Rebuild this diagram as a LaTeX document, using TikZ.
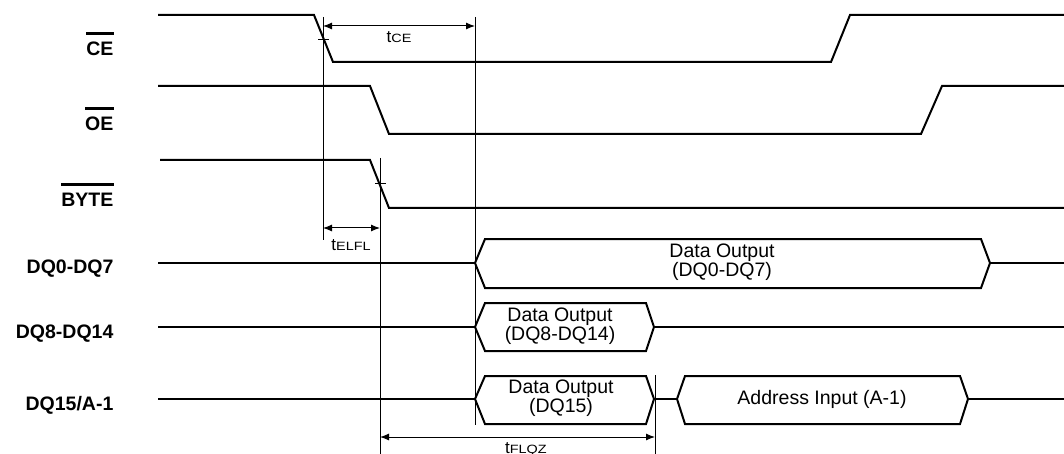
\documentclass[tikz,border=0pt]{standalone}
\usepackage{fontspec}
\setmainfont{Liberation Sans}
\usetikzlibrary{arrows.meta}
\newcommand{\tsub}[1]{{\fontsize{17}{17}\selectfont t}\scalebox{1.2}[1]{\fontsize{12}{12}\selectfont #1}}
\begin{document}
\begin{tikzpicture}[x=1pt,y=-1pt,
  sig/.style={line width=2pt, line join=miter},
  bus/.style={line width=2pt, line join=miter},
  guide/.style={line width=1pt},
  dim/.style={line width=1pt, {Latex[length=9pt,width=7pt]}-{Latex[length=9pt,width=7pt]}},
  lbl/.style={font=\fontsize{19.5}{20}\selectfont\bfseries, inner sep=0pt, anchor=base east},
  bar/.style={line width=3pt},
  bustext/.style={font=\fontsize{19.5}{19.5}\selectfont, align=center, inner sep=0pt},
  tlabel/.style={inner sep=0pt, anchor=base}
]
\useasboundingbox (0,0) rectangle (1064,454);
\fill[white] (0,0) rectangle (1064,454);

% signal names
\node[lbl] (ce) at (113.6,56) {CE};
\node[lbl] (oe) at (113.6,131) {OE};
\node[lbl] (byte) at (113.6,207) {BYTE};
\node[lbl] (dql) at (113.6,273) {DQ0-DQ7};
\node[lbl] (dqh) at (113.6,338) {DQ8-DQ14};
\node[lbl] (dq15) at (113.6,410) {DQ15/A-1};
\foreach \n in {ce,oe,byte}
  \draw[bar] ([yshift=8.5pt]\n.north west) -- ([yshift=8.5pt]\n.north east);

% control signals
\draw[sig] (158,15) -- (314,15) -- (333,62) -- (831,62) -- (850,15) -- (1064,15);
\draw[sig] (158,86) -- (370,86) -- (389,134) -- (921,134) -- (942,86) -- (1064,86);
\draw[sig] (160,160) -- (370,160) -- (389,208) -- (1064,208);

% DQ0-DQ7
\draw[sig] (158,263) -- (475,263);
\draw[bus] (475,263) -- (485,239) -- (981,239) -- (990,263) -- (981,288) -- (485,288) -- cycle;
\draw[sig] (990,263) -- (1064,263);
\node[bustext] (b1) at (722,262) {Data Output\\(DQ0-DQ7)};

% DQ8-DQ14
\draw[sig] (158,327) -- (475,327);
\draw[bus] (475,327) -- (485,303) -- (646,303) -- (654,327) -- (646,351) -- (485,351) -- cycle;
\draw[sig] (654,327) -- (1064,327);
\node[bustext] (b2) at (560,326) {Data Output\\(DQ8-DQ14)};

% DQ15/A-1
\draw[sig] (158,399) -- (475,399);
\draw[bus] (475,399) -- (485,376) -- (646,376) -- (654,399) -- (646,424) -- (485,424) -- cycle;
\draw[sig] (654,399) -- (677,399);
\draw[bus] (677,399) -- (685,376) -- (960,376) -- (968,399) -- (960,424) -- (685,424) -- cycle;
\draw[sig] (968,399) -- (1064,399);
\node[bustext] (b3) at (561,398) {Data Output\\(DQ15)};
\node[bustext] (b4) at (822,399) {Address Input (A-1)};

% timing guides
\coordinate (g1t) at (323,17);  \coordinate (g1b) at (323,240);
\coordinate (g2t) at (475,17);  \coordinate (g2b) at (475,425);
\coordinate (g3t) at (380,158); \coordinate (g3b) at (380,454);
\coordinate (g4t) at (655,375); \coordinate (g4b) at (655,454);
\draw[guide] (g1t) -- (g1b);
\draw[guide] (g2t) -- (g2b);
\draw[guide] (g3t) -- (g3b);
\draw[guide] (g4t) -- (g4b);
\draw[guide] (318,40) -- (329,40);
\draw[guide] (375,184) -- (386,184);

% dimension arrows
\coordinate (a1l) at (323,26);  \coordinate (a1r) at (475,26);
\coordinate (a2l) at (323,228); \coordinate (a2r) at (380,228);
\coordinate (a3l) at (380,437); \coordinate (a3r) at (655,437);
\draw[dim] (a1l) -- (a1r);
\draw[dim] (a2l) -- (a2r);
\draw[dim] (a3l) -- (a3r);
\node[tlabel] (tce) at (399,43) {\tsub{CE}};
\node[tlabel] (telfl) at (351,250) {\tsub{ELFL}};
\node[tlabel, anchor=base west] (tflqz) at (505,453.5) {\tsub{FLQZ}};
\end{tikzpicture}
\end{document}
